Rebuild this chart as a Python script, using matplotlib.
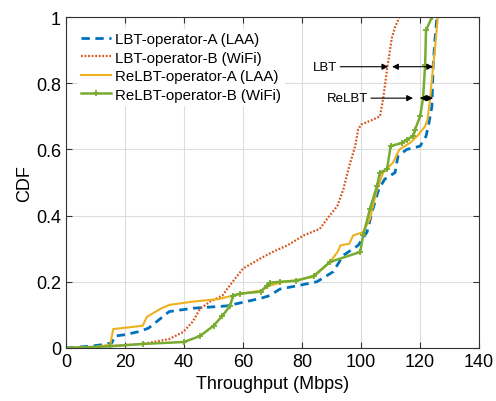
import matplotlib
matplotlib.use("Agg")
import matplotlib.pyplot as plt

plt.rcParams["font.family"] = ["Liberation Sans", "DejaVu Sans"]

# LBT-operator-A (LAA)
lbt_a_x = [0, 8, 12.5, 15.5, 16.6, 20, 25, 28, 30.8, 35, 43, 54.5, 61, 66, 69, 72.5, 79, 85,
           90.5, 94, 99, 102, 104, 106, 108, 111.5, 112.5, 115.5, 120, 122, 123, 124, 124.4, 125, 125.7]
lbt_a_y = [0, 0.005, 0.01, 0.015, 0.036, 0.04, 0.05, 0.06, 0.08, 0.11, 0.12, 0.127, 0.14, 0.15, 0.158,
           0.178, 0.189, 0.2, 0.23, 0.28, 0.31, 0.35, 0.42, 0.48, 0.51, 0.53, 0.58, 0.60, 0.61, 0.64,
           0.68, 0.73, 0.85, 0.93, 1.0]

# LBT-operator-B (WiFi)
lbt_b_x = [0, 10, 15, 26, 35, 39.7, 43, 45.4, 48.8, 53, 55.6, 60, 65.8, 70, 75, 80.5, 86, 88.5,
           92, 94, 96, 98, 99, 100, 104, 106.4, 107.5, 109, 110.4, 111.5, 113]
lbt_b_y = [0, 0.003, 0.006, 0.012, 0.027, 0.048, 0.08, 0.118, 0.14, 0.158, 0.19, 0.24, 0.27, 0.29,
           0.31, 0.34, 0.36, 0.39, 0.43, 0.48, 0.55, 0.61, 0.66, 0.675, 0.69, 0.70, 0.755, 0.855,
           0.936, 0.97, 1.0]

# ReLBT-operator-A (LAA)
relbt_a_x = [0, 10, 15, 16, 26, 27.4, 32, 35, 43, 52, 59, 66, 69, 72.5, 78, 84, 89.5, 92, 93, 96,
             97.3, 100.7, 103, 105.4, 107.5, 110.8, 113, 116.6, 119, 121.7, 122.5, 123.4, 124.4, 125, 126]
relbt_a_y = [0, 0.003, 0.01, 0.057, 0.067, 0.094, 0.118, 0.13, 0.14, 0.148, 0.164, 0.173, 0.188,
             0.197, 0.205, 0.215, 0.26, 0.29, 0.31, 0.315, 0.34, 0.35, 0.39, 0.48, 0.53, 0.56, 0.60,
             0.62, 0.64, 0.67, 0.69, 0.755, 0.85, 0.9, 1.0]

# ReLBT-operator-B (WiFi)
relbt_b_x = [0, 15, 26, 40, 45.4, 50, 53, 55.6, 56.6, 59, 66, 68, 69, 72.5, 78, 84, 89.5, 99.7,
             100.7, 103, 105.4, 106.4, 108.8, 110, 114, 115.5, 117.6, 118.3, 120, 121, 121.7, 122, 124]
relbt_b_y = [0, 0.005, 0.012, 0.018, 0.036, 0.067, 0.097, 0.127, 0.158, 0.164, 0.17, 0.188, 0.197,
             0.2, 0.203, 0.218, 0.26, 0.29, 0.34, 0.42, 0.49, 0.53, 0.54, 0.61, 0.62, 0.63, 0.64,
             0.66, 0.70, 0.755, 0.855, 0.96, 1.0]

fig = plt.figure(figsize=(4.96, 4.02), dpi=100)
ax = fig.add_axes([0.133, 0.132, 0.833, 0.823])

ax.plot(lbt_a_x, lbt_a_y, color="#0072BD", lw=2, dashes=(3, 2), label="LBT-operator-A (LAA)")
ax.plot(lbt_b_x, lbt_b_y, color="#D95319", lw=1.6, dashes=(0.8, 0.8), label="LBT-operator-B (WiFi)")
ax.plot(relbt_a_x, relbt_a_y, "-", color="#EDB120", lw=1.5, label="ReLBT-operator-A (LAA)")
ax.plot(relbt_b_x, relbt_b_y, "-", color="#77AC30", lw=1.8, marker="+", ms=4, mew=1.3,
        label="ReLBT-operator-B (WiFi)")

# arrows
arr = dict(arrowstyle="-|>", color="k", lw=0.8, mutation_scale=9, shrinkA=0, shrinkB=0)
dbl = dict(arrowstyle="<|-|>", color="k", lw=0.8, mutation_scale=9, shrinkA=0, shrinkB=0)
ax.annotate("LBT", xy=(109.2, 0.85), xytext=(92, 0.85), ha="right", va="center",
            fontsize=9.5, arrowprops=arr)
ax.annotate("", xy=(124.4, 0.85), xytext=(110.5, 0.85), arrowprops=dbl)
ax.annotate("ReLBT", xy=(117.6, 0.755), xytext=(102.4, 0.755), ha="right", va="center",
            fontsize=9.5, arrowprops=arr)
ax.annotate("", xy=(124.4, 0.755), xytext=(120, 0.755), arrowprops=dbl)

ax.set_xlim(0, 140)
ax.set_ylim(0, 1)
ax.set_xticks(range(0, 141, 20))
ax.set_yticks([0, 0.2, 0.4, 0.6, 0.8, 1])
ax.set_yticklabels(["0", "0.2", "0.4", "0.6", "0.8", "1"])
ax.tick_params(direction="in", labelsize=13, length=4, color="#333333", top=True, right=True)
ax.grid(True, color="#dddddd", lw=0.8)
for s in ax.spines.values():
    s.set_color("#333333")
ax.set_xlabel("Throughput (Mbps)", fontsize=13)
ax.set_ylabel("CDF", fontsize=13, labelpad=2)

leg = ax.legend(loc="upper left", fontsize=10.8, frameon=True, fancybox=False, edgecolor="white",
                framealpha=1, handlelength=2.0, handletextpad=0.3, labelspacing=0.3,
                borderaxespad=0.8, borderpad=0.2)

fig.savefig("out.png", dpi=100)
